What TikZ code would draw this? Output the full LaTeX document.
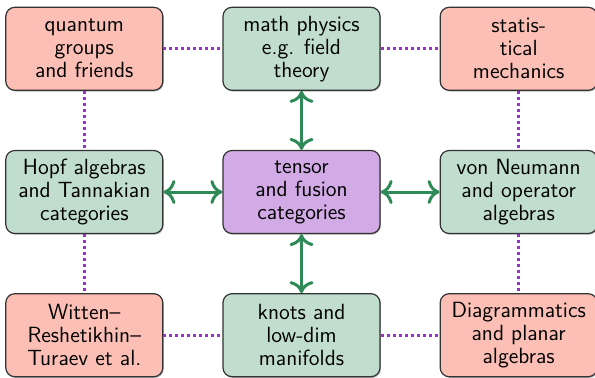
\documentclass[tikz,border=0pt]{standalone}
\usepackage[dvipsnames,svgnames,x11names]{xcolor}
\usepackage{tikz}
\usetikzlibrary{arrows.meta,positioning,shadows}
\definecolor{mtcred}{HTML}{FCBFB5}
\definecolor{mtcgreen}{HTML}{C0DDCD}
\definecolor{mtcpurple}{HTML}{D2AAE6}
\definecolor{mtcarrow}{HTML}{2E8B57}
\definecolor{mtcdots}{HTML}{9932CC}

\begin{document}
\begin{tikzpicture}[
    node distance=29.5pt,
    every node/.style={align=center, font=\sffamily\fontsize{11}{11.5}\selectfont},
    area/.style={draw=black!80, line width=0.6pt, rounded corners=4.5pt, minimum width=78.5pt, minimum height=41.5pt,
        drop shadow={shadow xshift=0.5pt, shadow yshift=-0.6pt, opacity=0.55}},
    biarrow/.style={{Computer Modern Rightarrow[length=6pt,width=12pt]}-{Computer Modern Rightarrow[length=6pt,width=12pt]}, line width=1.5pt, mtcarrow},
    link/.style={line width=1.5pt, mtcdots, dash pattern=on 1.5pt off 1.5pt}
]
    \useasboundingbox (-150.75pt,-92.5pt) rectangle (146.75pt,96pt);
    \node[area, fill=mtcpurple] (tensor) {tensor\\and fusion\\categories};
    \node[area, fill=mtcgreen, above=of tensor] (mathphys) {math physics\\e.g. field\\theory};
    \node[area, fill=mtcgreen, below=of tensor] (knots) {knots and\\low-dim\\manifolds};
    \node[area, fill=mtcgreen, left=of tensor] (hopf) {Hopf algebras\\and Tannakian\\categories};
    \node[area, fill=mtcgreen, right=of tensor] (vonneumann) {von Neumann\\and operator\\algebras};
    \node[area, fill=mtcred, left=of mathphys] (qgroups) {quantum\\groups\\and friends};
    \node[area, fill=mtcred, right=of mathphys] (statmech) {statis-\\tical\\mechanics};
    \node[area, fill=mtcred, left=of knots] (wrt) {Witten--\\Reshetikhin--\\Turaev et al.};
    \node[area, fill=mtcred, right=of knots] (diagram) {Diagrammatics\\and planar\\algebras};

    \draw[link] (qgroups) -- (mathphys);
    \draw[link] (mathphys) -- (statmech);
    \draw[link] (qgroups) -- (hopf);
    \draw[link] (hopf) -- (wrt);
    \draw[link] (statmech) -- (vonneumann);
    \draw[link] (vonneumann) -- (diagram);
    \draw[link] (wrt) -- (knots);
    \draw[link] (knots) -- (diagram);

    \draw[biarrow] (tensor) -- (mathphys);
    \draw[biarrow] (tensor) -- (knots);
    \draw[biarrow] (tensor) -- (hopf);
    \draw[biarrow] (tensor) -- (vonneumann);
\end{tikzpicture}
\end{document}
